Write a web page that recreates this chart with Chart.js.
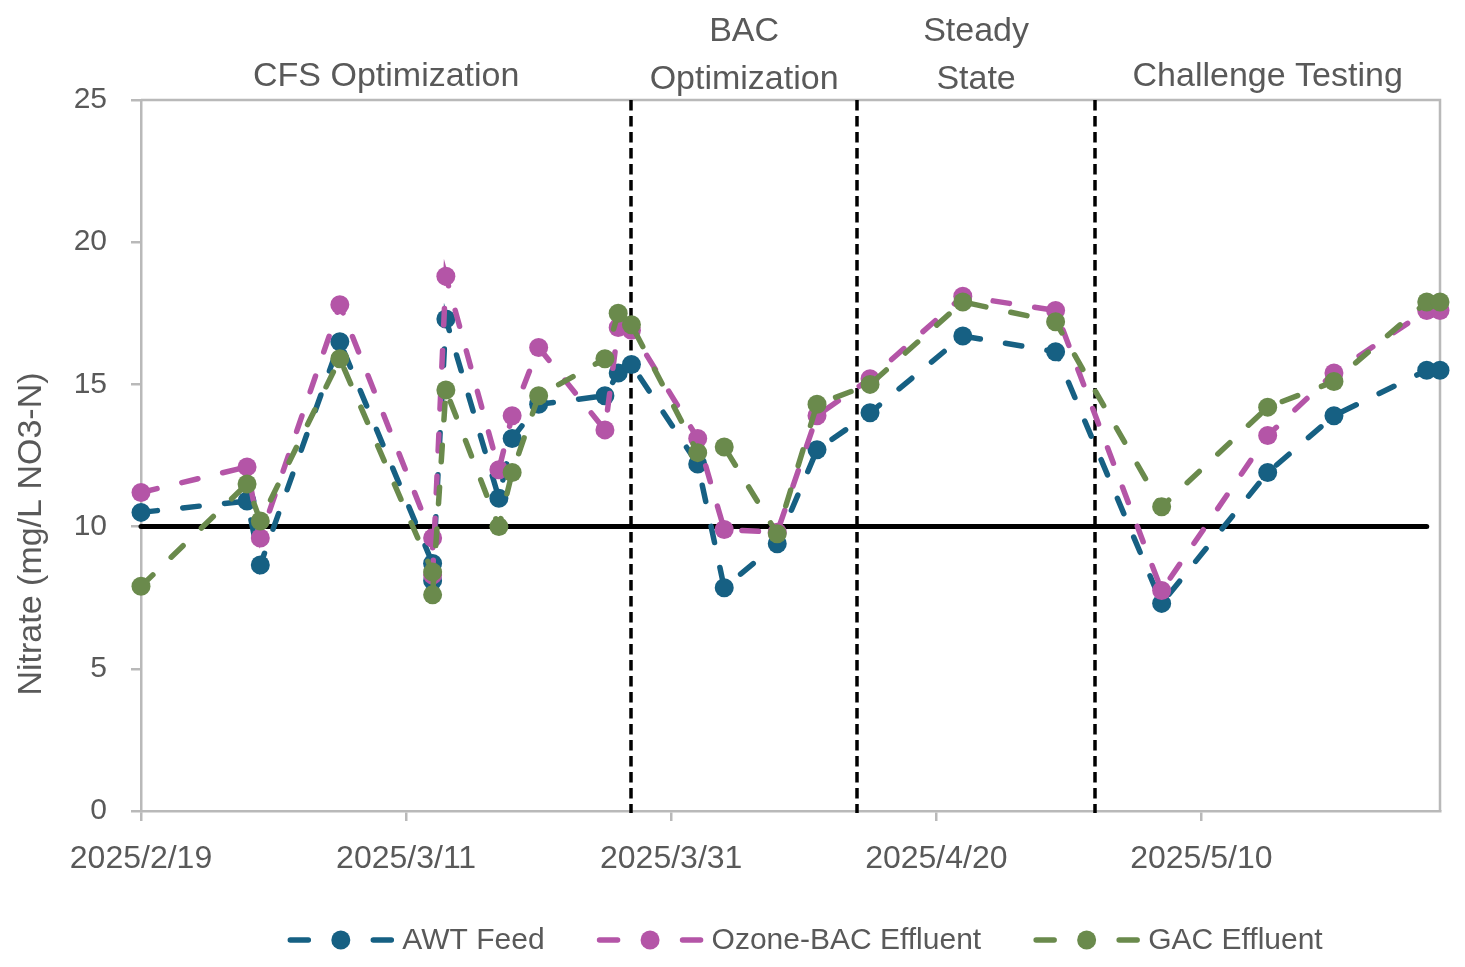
<!DOCTYPE html>
<html><head><meta charset="utf-8">
<script src="https://cdn.jsdelivr.net/npm/chart.js@4.4.1/dist/chart.umd.min.js"></script>
<style>html,body{margin:0;padding:0;background:#fff;overflow:hidden}#wrap{width:1465px;height:967px;position:relative}</style>
</head><body><div id="wrap"><canvas id="c" width="1465" height="967"></canvas></div>
<script>
// ---- data ----
const sampleDates = ['2025-02-19','2025-02-27','2025-02-28','2025-03-06','2025-03-13','2025-03-13','2025-03-14','2025-03-18','2025-03-19','2025-03-21','2025-03-26','2025-03-27','2025-03-28','2025-04-02','2025-04-04','2025-04-08','2025-04-11','2025-04-15','2025-04-22','2025-04-29','2025-05-07','2025-05-15','2025-05-20','2025-05-27','2025-05-28'];
const awtFeed   = [10.5, 10.9, 8.65, 16.5, 8.7, 8.1, 17.3, 11.0, 13.1, 14.3, 14.6, 15.4, 15.7, 12.2, 7.85, 9.4, 12.7, 14.0, 16.7, 16.15, 7.3, 11.9, 13.9, 15.5, 15.5];
const ozoneBac  = [11.2, 12.1, 9.6, 17.8, 9.6, 8.3, 18.8, 12.0, 13.9, 16.3, 13.4, 17.0, 16.9, 13.1, 9.9, 9.8, 13.9, 15.2, 18.1, 17.6, 7.75, 13.2, 15.4, 17.6, 17.6];
const gacEff    = [7.9, 11.5, 10.2, 15.9, 8.4, 7.6, 14.8, 10.0, 11.9, 14.6, 15.9, 17.5, 17.1, 12.6, 12.8, 9.75, 14.3, 15.0, 17.9, 17.2, 10.7, 14.2, 15.1, 17.9, 17.9];
const seriesNames = ['AWT Feed', 'Ozone-BAC Effluent', 'GAC Effluent'];
const seriesColors = ['#166083', '#B455A7', '#6A8A4C'];
const axisStart = '2025-02-19';
const axisEnd = '2025-05-28';
const xTickEveryDays = 20;
const yMin = 0, yMax = 25, yStep = 5;
const thresholdValue = 10;
const thresholdRange = ['2025-02-19', '2025-05-27'];
const phaseBoundaries = ['2025-03-28', '2025-04-14', '2025-05-02'];
const phaseLabels = [['CFS Optimization'], ['BAC', 'Optimization'], ['Steady', 'State'], ['Challenge Testing']];
const yAxisTitle = 'Nitrate (mg/L NO3-N)';

// ---- helpers ----
const FONT = "'Liberation Sans', Arial, sans-serif";
const TEXT = '#595959';
const AXIS = '#b9b9b9';
function dayOf(s){ const [y,m,d]=s.split('-').map(Number); const [y0,m0,d0]=axisStart.split('-').map(Number); return (Date.UTC(y,m-1,d)-Date.UTC(y0,m0-1,d0))/86400000; }
function labelOf(day){ const [y0,m0,d0]=axisStart.split('-').map(Number); const dt=new Date(Date.UTC(y0,m0-1,d0)+day*86400000); return dt.getUTCFullYear()+'/'+(dt.getUTCMonth()+1)+'/'+dt.getUTCDate(); }
const xs = sampleDates.map(dayOf);
const mk = arr => arr.map((v,i)=>({x:xs[i], y:v}));
const allSeries = [awtFeed, ozoneBac, gacEff];

const LW = 5.5, PR = 9.5;
const datasets = allSeries.map((arr,i)=>({
  label: seriesNames[i], data: mk(arr),
  borderColor: seriesColors[i], backgroundColor: seriesColors[i],
  borderWidth: LW, borderDash: [16.5, 25.5], borderCapStyle: 'round',
  pointRadius: PR, pointHoverRadius: PR, pointBorderWidth: 0, pointBackgroundColor: seriesColors[i],
  tension: 0, clip: false, order: 3 - i
}));
datasets.push({
  label: 'threshold', data: thresholdRange.map(d=>({x:dayOf(d), y:thresholdValue})),
  borderColor: '#000', borderWidth: 5, pointRadius: 0, borderCapStyle: 'round', order: 10, clip: false
});

const decor = {
  id: 'decor',
  beforeDatasetsDraw(chart){
    const {ctx, chartArea:a, scales:{x}} = chart;
    ctx.save();
    ctx.strokeStyle = AXIS; ctx.lineWidth = 2.5;
    ctx.beginPath(); ctx.moveTo(a.left, a.top); ctx.lineTo(a.right, a.top); ctx.lineTo(a.right, a.bottom); ctx.stroke();
    ctx.strokeStyle = '#000'; ctx.lineWidth = 3.5; ctx.setLineDash([10.5, 5.5]);
    phaseBoundaries.forEach(d=>{ const px = Math.round(x.getPixelForValue(dayOf(d))); ctx.beginPath(); ctx.moveTo(px, a.top); ctx.lineTo(px, a.bottom + 2); ctx.stroke(); });
    ctx.restore();
  },
  afterDraw(chart){
    const {ctx, chartArea:a, scales:{x}} = chart;
    ctx.save();
    // phase labels
    const bounds = [x.min, ...phaseBoundaries.map(dayOf), x.max];
    ctx.fillStyle = TEXT; ctx.font = '34px ' + FONT; ctx.textAlign = 'center'; ctx.textBaseline = 'middle';
    phaseLabels.forEach((lines, i)=>{
      const cx = x.getPixelForValue((bounds[i] + bounds[i+1]) / 2);
      const last = lines.length > 1 ? 80 : 77;
      lines.forEach((t, j)=>{ const y = last - (lines.length - 1 - j) * 48; ctx.fillText(t, cx, y); });
    });
    // y title
    ctx.save(); ctx.translate(32, 534); ctx.rotate(-Math.PI/2); ctx.font = '34px ' + FONT; ctx.fillText(yAxisTitle, 0, 0); ctx.restore();
    // legend
    ctx.font = '30px ' + FONT; ctx.textAlign = 'left';
    const sampleW = 107, gap = 8, itemGap = 52;
    const widths = seriesNames.map(n => sampleW + gap + ctx.measureText(n).width);
    const total = widths.reduce((s,w)=>s+w,0) + itemGap * (seriesNames.length - 1);
    let lx = 805 - total / 2; const ly = 940;
    seriesNames.forEach((n, i)=>{
      ctx.strokeStyle = seriesColors[i]; ctx.fillStyle = seriesColors[i]; ctx.lineWidth = LW; ctx.lineCap = 'round'; ctx.setLineDash([]);
      ctx.beginPath(); ctx.moveTo(lx + 3, ly); ctx.lineTo(lx + 21, ly); ctx.moveTo(lx + sampleW - 21, ly); ctx.lineTo(lx + sampleW - 3, ly); ctx.stroke();
      ctx.beginPath(); ctx.arc(lx + sampleW / 2, ly, PR, 0, Math.PI * 2); ctx.fill();
      ctx.fillStyle = TEXT; ctx.fillText(n, lx + sampleW + gap, ly + 1);
      lx += widths[i] + itemGap;
    });
    ctx.restore();
  }
};

new Chart(document.getElementById('c'), {
  type: 'line',
  data: { datasets },
  options: {
    responsive: false, animation: false, devicePixelRatio: 1,
    layout: { padding: { top: 100, right: 25, left: 0, bottom: 0 } },
    plugins: { legend: { display: false }, tooltip: { enabled: false } },
    scales: {
      x: {
        type: 'linear', min: dayOf(axisStart), max: dayOf(axisEnd),
        afterBuildTicks: s => { s.ticks = s.ticks.filter(t => t.value % xTickEveryDays === 0); },
        ticks: { stepSize: xTickEveryDays, callback: v => labelOf(v), color: TEXT, font: { size: 32, family: FONT }, padding: 19, maxRotation: 0, autoSkip: false },
        grid: { drawOnChartArea: false, drawTicks: true, tickLength: 10, color: AXIS, lineWidth: 2.5 },
        border: { display: true, color: AXIS, width: 2.5 },
        afterFit: s => { s.height = 156; }
      },
      y: {
        min: yMin, max: yMax,
        ticks: { stepSize: yStep, color: TEXT, font: { size: 30, family: FONT }, padding: 24 },
        grid: { drawOnChartArea: false, drawTicks: true, tickLength: 10, color: AXIS, lineWidth: 2.5 },
        border: { display: true, color: AXIS, width: 2.5 },
        afterFit: s => { s.width = 141; }
      }
    }
  },
  plugins: [decor]
});
</script></body></html>
